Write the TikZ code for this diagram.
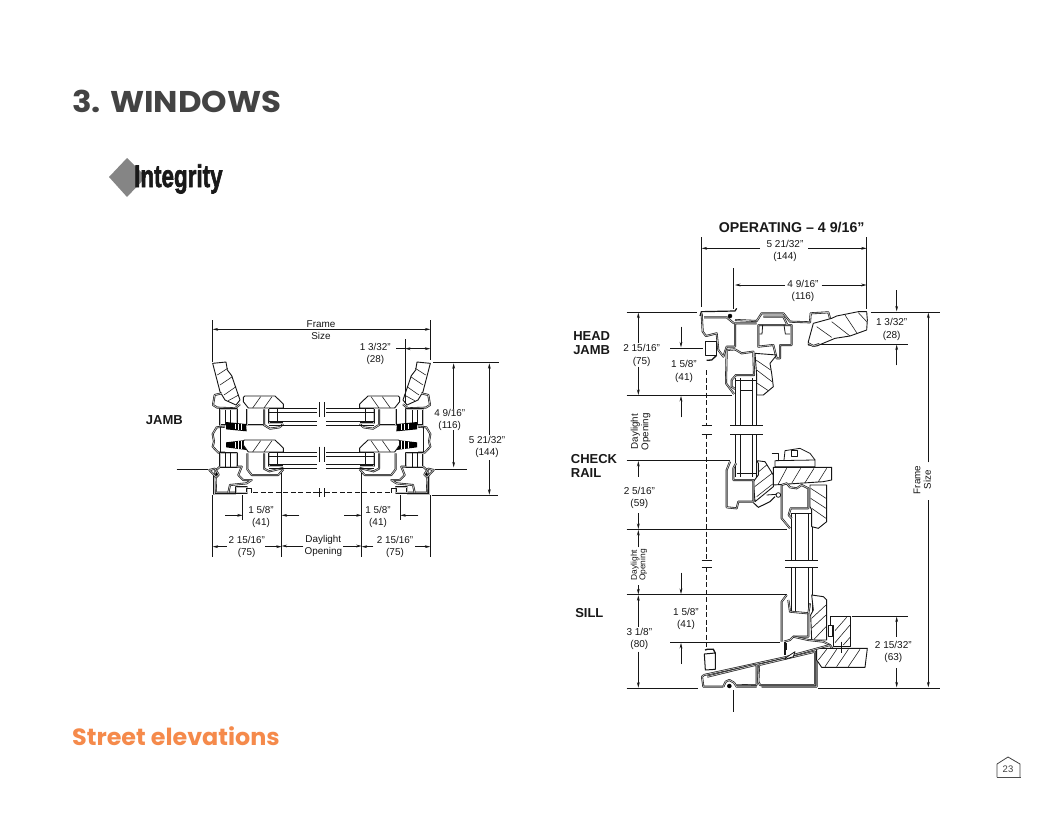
\documentclass[tikz,border=0pt]{standalone}
\usepackage{fontspec}
\setmainfont{Liberation Sans}
\newfontfamily\headfont{Poppins}
\newfontfamily\logofont[FakeBold=2.2]{Liberation Sans Bold}
\usetikzlibrary{arrows.meta}
\definecolor{inkdark}{HTML}{161616}
\definecolor{headgrey}{HTML}{434343}
\definecolor{streetorange}{HTML}{F58A4B}
\tikzset{
  >={Stealth[length=5.5pt,width=2.8pt]},
  dimline/.style={line width=.65pt,draw=inkdark},
  thinext/.style={line width=.7pt,draw=inkdark},
  fin/.style={line width=1.2pt,draw=inkdark},
  wall/.style={line width=.6pt,draw=inkdark,double=black!25,double distance=.8pt,line join=round},
  plain/.style={line width=.8pt,draw=inkdark,line join=round},
  wood/.style={line width=.9pt,draw=inkdark,fill=white,line join=round},
  hatch/.style={line width=.55pt,draw=inkdark},
  glassline/.style={line width=.9pt,draw=inkdark},
  dashline/.style={line width=.9pt,draw=inkdark,dash pattern=on 5pt off 2.5pt},
  jamblabel/.style={font=\fontsize{9.9}{11.8}\selectfont,text=inkdark,align=center,inner sep=0pt},
  oplabel/.style={font=\fontsize{10}{12.3}\selectfont,text=inkdark,align=center,inner sep=0pt},
  boldlabel/.style={font=\fontsize{13}{14.6}\selectfont\bfseries,text=black!90,align=left,inner sep=0pt},
}
\newcommand\jambhalf{%
  % sash wood
  \draw[wood] (218,160)--(258,156)--(262,180)--(275,197)--(300,270)--(288,285)--(255,270)--(240,245)--cycle;
  \draw[hatch] (232,195)--(263,175) (240,225)--(277,200) (252,255)--(288,230) (265,272)--(296,255);
  \draw[wall] (245,250)--(224,255)--(219,285)--(232,293)--(285,295)--(300,283);
  % upper frame box
  \draw[wall] (240,298) rectangle (290,345);
  \draw[plain] (256,300)--(256,345) (272,300)--(272,345);
  % upper sash wood
  \draw[wood] (310,262)--(314,258)--(405,258)--(430,282)--(430,294)--(375,294)--(325,294)--(310,275)--cycle;
  \draw[hatch] (338,294)--(362,260) (372,294)--(396,260);
  \draw[wall] (322,298)--(322,345)--(372,345);
  \draw[wall] (372,298)--(372,345)--(390,356)--(418,352)--(430,342);
  \draw[wall] (388,298)--(388,340)--(430,340);
  \draw[plain] (412,298)--(412,340);
  % weather strips
  \fill[black] (258,336)--(318,342)--(320,364)--(258,358)--cycle;
  \draw[white,line width=.7pt] (285,341)--(285,358) (295,342)--(295,360) (305,343)--(305,361);
  \fill[black] (258,397)--(318,390)--(320,420)--(258,412)--cycle;
  \draw[white,line width=.7pt] (285,395)--(285,414) (295,394)--(295,416) (305,393)--(305,418);
  % centre interlock
  \draw[wall] (255,350)--(230,352)--(218,372)--(222,395)--(218,410)--(235,428)--(255,428);
  \draw[plain] (240,352)--(240,425);
  % lower box
  \draw[wall] (240,430) rectangle (290,470);
  \draw[plain] (256,430)--(256,470) (272,430)--(272,470);
  % lower sash
  \draw[wood] (310,392)--(314,390)--(405,390)--(430,414)--(430,426)--(325,426)--(310,405)--cycle;
  \draw[hatch] (338,426)--(362,392) (372,426)--(396,392);
  \draw[wall] (322,430)--(322,478)--(335,495)--(415,495)--(430,478);
  \draw[wall] (372,430)--(372,476)--(388,484)--(430,474);
  \draw[wall] (388,430)--(388,468)--(430,468);
  \draw[plain] (412,430)--(412,468);
  % lower frame
  \draw[wall] (240,470)--(226,482)--(228,548)--(285,548);
  \draw[wall] (290,470)--(305,470)--(295,495)--(310,510)--(335,510)--(320,520)--(270,525)--(265,548);
  \draw[wall] (222,492)--(222,553)--(288,553);
  \draw[wall] (288,532) rectangle (322,548);
  \draw[plain] (322,534)--(335,534)--(335,548);
  % nailing fin nub
  \draw[wall] (208,480)--(225,476)--(236,494)--(228,502)--(218,490)--cycle;
  \fill[black] (229,492) circle (4);
  % glass and break
  \draw[glassline] (388,296)--(530,296) (388,307)--(530,307) (388,333)--(530,333) (388,345)--(530,345);
  \draw[glassline] (388,428)--(530,428) (388,438)--(530,438) (388,463)--(530,463) (388,475)--(530,475);
  \draw[glassline] (537,277)--(537,322) (537,410)--(537,455) (537,535)--(537,560);
  \draw[dashline] (340,548)--(530,548);
}
\begin{document}
\begin{tikzpicture}[x=1pt,y=-1pt]
\useasboundingbox (0,0) rectangle (1056,816);
\fill[white] (0,0) rectangle (1056,816);

% Page texts
\node[anchor=west,inner sep=0pt,text=headgrey] (title) at (72,101) {\scalebox{1.08}[1]{\fontsize{30}{30}\selectfont\headfont\bfseries 3. WINDOWS}};
\node[anchor=west,inner sep=0pt,text=streetorange] (street) at (72,736) {\scalebox{1.015}[1]{\fontsize{23.5}{24}\selectfont\headfont\bfseries Street elevations}};

% Logo
\fill[black!48] (109,177)--(127,158)--(146,177)--(127,197)--cycle;
\node[anchor=west,inner sep=0pt] (logo) at (134,179) {\scalebox{.8}[1.12]{\fontsize{28}{28}\selectfont\logofont\textcolor{black!90}{Integrity}}};

% Page number icon
\draw[line width=.8pt,draw=black!75,line join=round] (997,777)--(997,764)--(1008,757)--(1020,764)--(1020,777);
\draw[line width=1.8pt,draw=black!70] (996.5,777.5)--(1020.5,777.5);
\node[inner sep=0pt,text=black!75,font=\fontsize{9.5}{10}\selectfont] (pageno) at (1008,769.5) {23};

% ------------------ JAMB ------------------
\begin{scope}[shift={(140,310)},scale=.33333]
  \jambhalf
  \begin{scope}[shift={(1089,0)},xscale=-1]
    \jambhalf
  \end{scope}
  \draw[dashline] (530,548)--(560,548);
  % extension lines
  \draw[thinext] (218,30)--(218,155) (871,30)--(871,150) (795,88)--(795,280);
  \draw[thinext] (880,158)--(1078,158) (875,556)--(1075,556);
  \draw[fin] (110,478)--(205,478) (885,478)--(980,478);
  \draw[thinext] (218,556)--(218,740) (871,556)--(871,740) (425,490)--(425,740) (665,490)--(665,740) (308,556)--(308,630) (781,556)--(781,630);
  % arrows
  \draw[dimline,<->] (218,58)--(871,58);
  \draw[dimline,<->] (795,116)--(871,116);
  \draw[dimline] (768,116)--(795,116);
  \draw[dimline,<->] (941,160)--(941,472);
  \draw[dimline,->] (1048,375)--(1048,160);
  \draw[dimline,->] (1048,450)--(1048,554);
  \draw[dimline,->] (256,616)--(308,616);
  \draw[dimline,->] (478,616)--(425,616);
  \draw[dimline,->] (612,616)--(665,616);
  \draw[dimline,->] (835,616)--(781,616);
  \draw[dimline,->] (260,710)--(218,710);
  \draw[dimline,->] (370,710)--(425,710);
  \draw[dimline,->] (700,710)--(665,710);
  \draw[dimline,->] (825,710)--(871,710);
  \draw[dimline,->] (490,708)--(425,708);
  \draw[dimline,->] (610,708)--(665,708);
  % labels
  \node[jamblabel] (jfs) at (543,60) {Frame\\Size};
  \node[jamblabel,fill=white] (j132) at (706,132) {1 3/32"\\(28)};
  \node[jamblabel,fill=white] (j916) at (929,329) {4 9/16"\\(116)};
  \node[jamblabel,fill=white] (j2132) at (1041,412) {5 21/32"\\(144)};
  \node[jamblabel] (j58a) at (363,620) {1 5/8"\\(41)};
  \node[jamblabel] (j58b) at (714,620) {1 5/8"\\(41)};
  \node[jamblabel,fill=white] (j215a) at (320,712) {2 15/16"\\(75)};
  \node[jamblabel,fill=white] (j215b) at (765,712) {2 15/16"\\(75)};
  \node[jamblabel,fill=white] (jday) at (550,708) {Daylight\\Opening};
  \node[boldlabel] (jamb) at (73,330) {JAMB};
\end{scope}

% ------------------ OPERATING ------------------
\begin{scope}[shift={(560,210)},scale=.33333]
  \node[inner sep=0pt,font=\fontsize{14.2}{14.4}\selectfont\bfseries,text=black!90] (optitle) at (695,51) {OPERATING – 4 9/16"};
  % extension lines
  \draw[thinext] (425,82)--(425,292) (920,82)--(920,296);
  \draw[fin] (520,175)--(520,296);
  \draw[thinext] (200,306)--(410,306) (932,306)--(1140,306);
  \draw[thinext] (330,414)--(428,414) (200,556)--(515,556) (200,752)--(510,752);
  \draw[thinext] (200,958)--(680,958) (200,1154)--(680,1154) (330,1297)--(660,1297);
  \draw[thinext] (200,1434)--(415,1434) (775,1434)--(1140,1434);
  \draw[thinext] (780,402)--(1045,402) (875,1218)--(1045,1218);
  \draw[fin] (520,1440)--(520,1505);
  % arrows
  \draw[dimline,->] (600,115)--(425,115);
  \draw[dimline,->] (745,115)--(920,115);
  \draw[dimline,->] (675,225)--(525,225);
  \draw[dimline,->] (785,225)--(920,225);
  \draw[dimline,->] (235,400)--(235,308);
  \draw[dimline,->] (235,470)--(235,555);
  \draw[dimline,->] (363,350)--(363,412);
  \draw[dimline,->] (363,622)--(363,558);
  \draw[dimline,->] (235,800)--(235,753);
  \draw[dimline,->] (235,910)--(235,957);
  \draw[dimline,->] (235,1012)--(235,960);
  \draw[dimline,->] (235,1125)--(235,1153);
  \draw[dimline,->] (235,1250)--(235,1156);
  \draw[dimline,->] (235,1325)--(235,1433);
  \draw[dimline,->] (363,1088)--(363,1152);
  \draw[dimline,->] (363,1362)--(363,1299);
  \draw[dimline,->] (1010,240)--(1010,304);
  \draw[dimline,->] (1010,466)--(1010,404);
  \draw[dimline,->] (1010,1280)--(1010,1220);
  \draw[dimline,->] (1010,1375)--(1010,1432);
  \draw[dimline,->] (1105,757)--(1105,308);
  \draw[dimline,->] (1105,870)--(1105,1432);
  % dashed sight line
  \draw[dashline] (440,480)--(440,645);
  \draw[dashline] (440,672)--(440,1050);
  \draw[dashline] (440,1072)--(440,1318);
  \draw[glassline] (425,645)--(457,645) (425,672)--(457,672) (425,1050)--(457,1050) (425,1072)--(457,1072);
  % glass upper
  \draw[glassline] (527,505)--(527,645) (540,505)--(540,645) (578,505)--(578,645) (590,505)--(590,645);
  \draw[glassline] (527,672)--(527,800) (540,672)--(540,800) (578,672)--(578,800) (590,672)--(590,800);
  \draw[glassline] (510,645)--(608,645) (510,672)--(608,672);
  % glass lower
  \draw[glassline] (695,910)--(695,1050) (706,910)--(706,1050) (745,910)--(745,1050) (757,910)--(757,1050);
  \draw[glassline] (695,1072)--(695,1210) (706,1072)--(706,1210) (745,1072)--(745,1210) (757,1072)--(757,1210);
  \draw[glassline] (675,1050)--(775,1050) (675,1072)--(775,1072);
  % head frame
  \draw[fin] (420,318)--(424,305)--(525,303)--(530,295);
  \draw[wall] (425,310)--(428,365)--(438,378)--(470,370)--(475,420)--(490,440)--(500,410)--(525,410)--(525,340)--(590,340);
  \draw[wall] (432,322)--(500,322)--(522,340);
  \draw[wall] (525,330)--(590,333)--(605,310)--(670,310)--(690,335)--(750,337)--(752,310)--(805,307)--(810,325);
  \draw[wall] (610,320)--(670,320)--(682,345)--(595,345)--(595,410)--(640,405)--(650,445)--(660,445)--(660,405)--(695,405)--(695,345)--(682,345);
  \draw[plain] (598,372)--(606,372)--(608,345) (672,345)--(676,372)--(690,372);
  \draw[fill=black] (510,318) circle (6);
  % sash lock parts
  \draw[plain,line width=1pt] (435,395)--(468,395)--(468,435)--(435,435)--cycle;
  \draw[line width=1.3pt,draw=inkdark] (440,451)--(455,450)--(470,436);
  \draw[line width=1.3pt,draw=inkdark] (435,1320)--(442,1318)--(460,1318)--(466,1330);
  \draw[plain,line width=1pt] (433,1332)--(466,1329)--(466,1378)--(436,1380)--cycle;
  % head wood
  \draw[wood] (760,340)--(815,325)--(830,318)--(895,305)--(920,305)--(922,330)--(920,360)--(870,378)--(825,385)--(770,408)--(745,405)--(745,395)--cycle;
  \draw[hatch] (770,350)--(815,382) (815,335)--(870,378) (855,315)--(890,368) (895,308)--(920,335);
  \draw[wall] (745,400)--(760,408)--(778,402);
  % head sash
  \draw[wood] (585,430)--(650,435)--(630,460)--(635,490)--(640,530)--(610,555)--(590,555)--(590,495)--cycle;
  \draw[hatch] (588,450)--(632,480) (590,480)--(636,515) (592,520)--(625,542);
  \draw[wall] (525,418)--(500,420)--(498,520)--(522,552);
  \draw[wall] (525,418)--(545,430)--(580,425)--(582,495)--(528,495)--(515,510)--(515,530)--(525,537);
  \draw[plain] (527,510)--(590,510) (540,540)--(578,540);
  % check rail: upper sash bottom
  \draw[wood] (590,752)--(615,755)--(640,795)--(640,830)--(585,875)--(580,815)--(595,795)--(595,760)--cycle;
  \draw[hatch] (590,860)--(638,822) (584,830)--(636,790) (596,785)--(620,765);
  \draw[wall] (510,755)--(500,780)--(500,892)--(530,895)--(535,875)--(580,875)--(580,810)--(520,810)--(520,775)--(528,760);
  \draw[plain] (530,790)--(590,790);
  \draw[line width=1pt,draw=inkdark] (580,878)--(595,892)--(630,875)--(645,860);
  \draw[plain] (620,855)--(648,853);
  \draw[plain,fill=white] (655,855) circle (7);
  % check rail lock and wood
  \draw[plain] (635,730)--(655,730)--(655,750);
  \draw[plain,fill=white] (645,752)--(765,750)--(765,770)--(645,770)--cycle;
  \draw[plain] (672,750)--(675,722)--(720,715)--(750,730)--(765,750);
  \draw[plain,fill=white] (695,722) rectangle (712,738);
  \draw[wood] (640,772)--(815,772)--(815,810)--(790,815)--(640,825)--cycle;
  \draw[hatch] (655,822)--(680,775) (695,820)--(722,775) (735,818)--(762,775) (775,815)--(800,775);
  % check rail: lower sash head
  \draw[wood] (750,825)--(800,825)--(800,935)--(775,955)--(755,950)--(755,900)--(750,890)--cycle;
  \draw[hatch] (752,835)--(798,865) (752,865)--(798,895) (755,895)--(798,925);
  \draw[wall] (665,825)--(665,925)--(690,955);
  \draw[wall] (665,825)--(680,820)--(690,832)--(710,835)--(725,825)--(745,835)--(745,895)--(692,895)--(686,915)--(695,925);
  \draw[plain] (695,910)--(757,910);
  % sill
  \draw[wood] (755,1155)--(790,1160)--(800,1170)--(800,1290)--(755,1290)--(752,1215)--(760,1200)--cycle;
  \draw[hatch] (755,1225)--(798,1185) (755,1255)--(798,1215) (762,1288)--(798,1250);
  \draw[wall] (680,1155)--(665,1175)--(665,1295);
  \draw[wall] (685,1170)--(690,1205)--(745,1210)--(750,1180);
  \draw[wall] (745,1210)--(745,1280)--(700,1280)--(690,1290)--(672,1295);
  \draw[wall] (700,1280)--(745,1290)--(790,1295)--(810,1305)--(820,1320)--(770,1340)--(770,1430)--(605,1430);
  \draw[wood] (810,1220)--(872,1220)--(872,1308)--(820,1308)--(820,1245)--(810,1245)--cycle;
  \draw[hatch] (825,1262)--(860,1222) (825,1298)--(870,1245) (850,1305)--(870,1282);
  \draw[plain,fill=white] (805,1245) rectangle (818,1280);
  \draw[wood] (770,1315)--(922,1315)--(915,1372)--(785,1372)--(770,1350)--cycle;
  \draw[hatch] (795,1370)--(830,1318) (830,1370)--(865,1318) (865,1370)--(900,1318) (775,1350)--(800,1318);
  \draw[line width=1.4pt,draw=inkdark] (845,1295)--(845,1330);
  \draw[wall] (432,1395)--(675,1342)--(810,1305);
  \draw[wall] (432,1395)--(426,1400)--(430,1430)--(490,1430);
  \draw[wall] (442,1400)--(585,1365)--(590,1365)--(590,1425)--(530,1426);
  \draw[wall] (597,1365)--(765,1325)--(765,1425)--(600,1425)--(595,1415)--(597,1365);
  \draw[wall] (490,1430)--(497,1415)--(508,1410)--(522,1418)--(530,1430)--(590,1430);
  \draw[fill=black] (508,1428) circle (6);
  \draw[line width=1.4pt,draw=inkdark] (675,1295)--(675,1335);
  \draw[line width=1.6pt,draw=inkdark] (680,1300)--(680,1320);
  \draw[plain,fill=white] (675,1345)--(705,1325)--(700,1340)--(675,1348)--cycle;
  % labels
  \node[oplabel,fill=white] (o2132) at (675,123) {5 21/32"\\(144)};
  \node[oplabel,fill=white] (o916) at (729,243) {4 9/16"\\(116)};
  \node[oplabel,fill=white] (o215) at (245,436) {2 15/16"\\(75)};
  \node[oplabel] (o58a) at (372,484) {1 5/8"\\(41)};
  \node[oplabel] (o132) at (995,358) {1 3/32"\\(28)};
  \node[oplabel] (o2516) at (238,864) {2 5/16"\\(59)};
  \node[oplabel] (o318) at (238,1286) {3 1/8"\\(80)};
  \node[oplabel] (o58b) at (378,1226) {1 5/8"\\(41)};
  \node[oplabel] (o21532) at (1000,1325) {2 15/32"\\(63)};
  \node[oplabel,rotate=90,font=\fontsize{9.8}{10.5}\selectfont] (oday1) at (242,665) {Daylight\\Opening};
  \node[rotate=90,inner sep=0pt,align=center,font=\fontsize{8.4}{8.6}\selectfont,text=inkdark] (oday2) at (237,1065) {Daylight\\Opening};
  \node[oplabel,rotate=90,font=\fontsize{9.8}{10.5}\selectfont] (ofs) at (1087,810) {Frame\\Size};
  \node[boldlabel] (ohead) at (95,399) {HEAD\\JAMB};
  \node[boldlabel] (ocheck) at (102,768) {CHECK\\RAIL};
  \node[boldlabel] (osill) at (88,1208) {SILL};
\end{scope}
\end{tikzpicture}
\end{document}
